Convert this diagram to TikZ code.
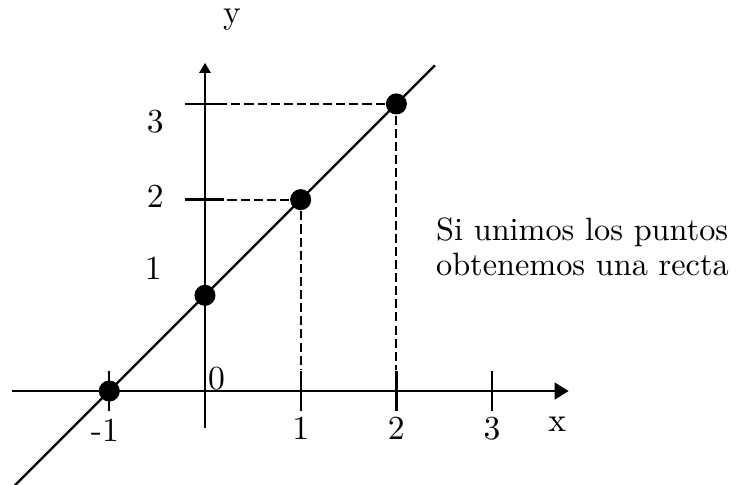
\documentclass[tikz,border=0pt]{standalone}
\usepackage{tikz}
\usetikzlibrary{arrows.meta}

\begin{document}
\begin{tikzpicture}[line width=0.7pt,
    dot/.style={circle,fill,inner sep=0pt,minimum size=2.2mm},
    lab/.style={font=\fontsize{10}{12}\selectfont,inner sep=0pt},
    guide/.style={line width=0.6pt,dash pattern=on 2.7pt off 1.2pt}]
          \useasboundingbox (-2.142,-0.972) rectangle (5.664,4.086);
          \coordinate (xl) at (-2.02,0);
          \coordinate (xr) at (3.80,0);
          \coordinate (yb) at (0,-0.387);
          \coordinate (yt) at (0,3.43);
          \draw[-{Triangle[length=4.2pt,width=5pt]}] (xl) -- (xr);
          \draw[-{Triangle[length=3pt,width=3.3pt]}] (yb) -- (yt);
          \foreach \x in {-1,1,2,3} \draw (\x,-0.21) -- (\x,0.21);
          \foreach \y in {2,3} \draw (-0.21,\y) -- (0.2,\y);
          \coordinate (lo) at (-1.985,-0.985);
          \coordinate (hi) at (2.403,3.403);
          \draw (lo) -- (hi);
          \node[dot] (pm1) at (-1,0) {};
          \node[dot] (p0) at (0,1) {};
          \node[dot] (p1) at (1,2) {};
          \node[dot] (p2) at (2,3) {};
          \coordinate (t2) at (0.2,2);
          \coordinate (t3) at (0.2,3);
          \coordinate (b1) at (1,0.22);
          \coordinate (b2) at (2,0.22);
          \path[guide] (p1) edge (t2);
          \path[guide] (p1) edge (b1);
          \path[guide] (p2) edge (t3);
          \path[guide] (p2) edge (b2);
          \node[lab] (lm1) at (-1.045,-0.41) {-1};
          \node[lab] (lx1) at (1,-0.39) {1};
          \node[lab] (lx2) at (2,-0.39) {2};
          \node[lab] (lx3) at (3,-0.39) {3};
          \node[lab] (lx) at (3.68,-0.345) {x};
          \node[lab] (l0) at (0.12,0.125) {0};
          \node[lab] (ly) at (0.282,3.877) {y};
          \node[lab] (ly1) at (-0.54,1.285) {1};
          \node[lab] (ly2) at (-0.52,2.04) {2};
          \node[lab] (ly3) at (-0.52,2.81) {3};
          \node[align=left,anchor=west,inner sep=0pt,font=\fontsize{9.6}{10.4}\selectfont] (txt) at (2.403,1.505) {Si unimos los puntos\\obtenemos una recta};
        \end{tikzpicture}
\end{document}
